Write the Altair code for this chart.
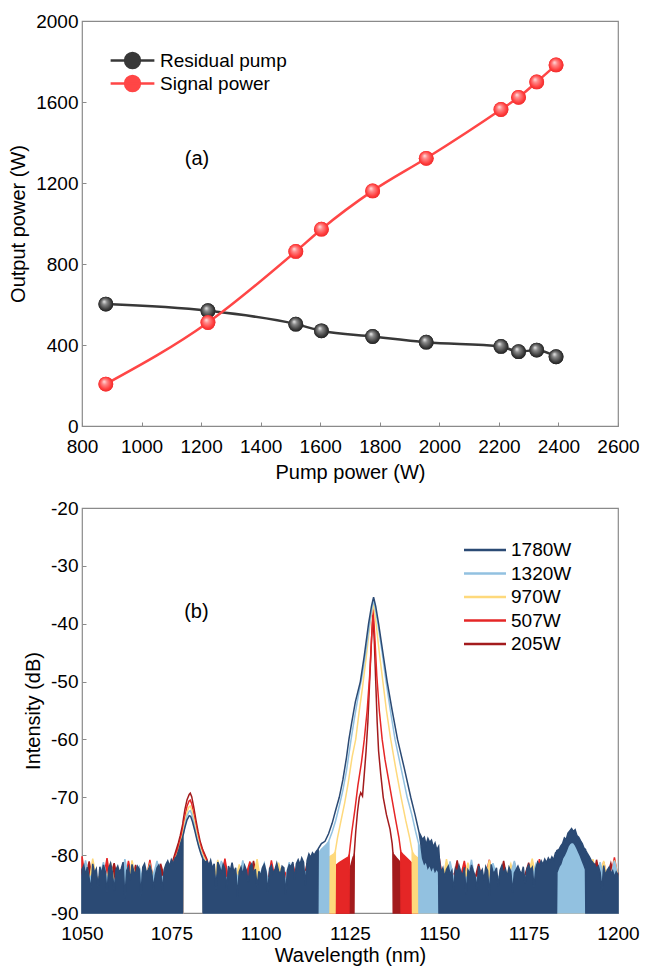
import altair as alt
import numpy as np
import pandas as pd

FONT = "Liberation Sans"

# ---------------- Panel (a) data ----------------
PUMP = [880, 1223, 1518, 1604, 1776, 1956, 2207, 2266, 2327, 2392]
RESIDUAL = [602, 569, 503, 470, 442, 414, 393, 367, 375, 342]
SIGNAL = [207, 511, 862, 972, 1161, 1322, 1563, 1623, 1699, 1783]
SERIES_A = ["Residual pump", "Signal power"]
COLORS_A = ["#383838", "#ff4646"]

# ---------------- Panel (b) data ----------------
SERIES_B = ["1780W", "1320W", "970W", "507W", "205W"]
COLORS_B = ["#2b4a74", "#92c1e0", "#fed97c", "#e52626", "#a31b1d"]

# 1780W (0.5 nm sampling of the noisy floor)
DB_N1 = [-82.5, -81.8, -83.4, -82.1, -84.0, -86.0, -81.5, -83.1, -82.4, -85.6,
         -82.0, -83.3, -81.7, -82.8, -86.5, -82.2, -81.4, -82.9, -86.3, -82.5,
         -81.9, -83.0, -82.3, -81.2, -87.5, -82.7, -82.0, -84.4, -81.6, -82.8,
         -83.2, -81.9, -82.4, -87.0, -82.1, -81.5, -83.0, -82.6, -81.8, -82.9,
         -85.8, -83.5, -82.2, -81.7, -82.8, -86.2, -82.5, -81.6, -81.0, -81.9,
         -80.8, -81.5, -80.6]
DB_P1_WL = [1076.5, 1077.0, 1077.5, 1078.1, 1078.2, 1078.8, 1079.4, 1080.0, 1080.4,
            1080.9, 1081.5, 1082.1, 1082.7, 1083.3, 1083.8, 1083.9, 1084.5]
DB_P1_TOP = [-80.2, -79.3, -78.2, -77.0, -76.8, -75.2, -73.9, -73.2, -73.3,
             -74.2, -75.6, -77.2, -78.6, -79.8, -80.6, -80.7, -81.2]
DB_N2 = [-81.0, -81.8, -80.9, -82.3, -81.5, -86.0, -81.2, -82.0, -83.1, -81.6,
         -82.4, -85.8, -81.9, -82.7, -81.3, -83.0, -82.2, -87.2, -82.9, -82.1,
         -83.4, -81.8, -82.6, -84.7, -82.0, -81.5, -83.2, -82.4, -85.5, -82.8,
         -83.6, -82.2, -81.6, -82.9, -86.5, -82.3, -81.8, -83.1, -82.5, -81.4,
         -82.7, -83.3, -81.9, -82.2, -86.8, -82.6, -81.7, -82.0, -81.2, -84.2,
         -81.5, -80.8, -81.6, -80.5, -81.2, -85.2, -80.9, -79.8, -80.4, -79.6,
         -80.0]
DB_M_WL = [1115.5, 1116.0, 1116.1, 1117.0, 1118.0, 1119.0, 1120.0, 1121.0, 1122.0, 1123.0,
           1124.0, 1124.7, 1125.5, 1126.5, 1127.9, 1129.0, 1130.2, 1131.0, 1131.6, 1132.2,
           1133.0, 1134.2, 1135.4, 1136.8, 1138.3, 1140.2, 1142.0, 1143.2, 1144.3]
DB_M_TOP = [-79.4, -79.0, -78.9, -78.0, -77.6, -76.3, -74.5, -72.2, -70.0, -67.0,
            -63.2, -60.0, -57.0, -53.5, -50.0, -45.5, -40.0, -37.0, -35.4, -37.0,
            -40.0, -45.0, -50.0, -55.0, -60.0, -65.0, -70.0, -73.0, -76.0]
DB_SH_WL = [1144.8, 1145.3, 1145.8, 1146.3, 1146.8, 1147.3, 1147.8, 1148.3, 1148.8,
            1149.3, 1149.8, 1149.9, 1150.0]
DB_SH_TOP = [-76.6, -77.3, -76.9, -78.2, -77.1, -77.8, -77.4, -78.6, -77.9,
             -79.1, -78.5, -79.5, -80.5]
DB_SH_BOT = [-78.0, -80.5, -81.5, -81.0, -82.2, -81.6, -82.5, -81.8, -82.8,
             -82.3, -83.0, -90.0, -90.0]
DB_N3 = [-83.0, -82.2, -83.8, -82.5, -81.9, -83.3, -82.7, -86.2, -82.4, -83.0,
         -81.8, -82.9, -83.5, -82.1, -86.8, -82.6, -83.2, -81.7, -82.8, -83.6,
         -85.9, -81.9, -83.1, -82.5, -84.3, -82.0, -82.7, -87.0, -81.6, -82.9,
         -83.0, -82.2, -85.4, -82.6, -81.8, -83.2, -82.4, -83.7, -82.1, -82.8,
         -86.4, -83.1, -82.5, -81.9, -82.7, -83.3, -82.0, -84.9, -82.4, -81.7,
         -82.6, -82.1, -85.6, -82.3, -81.2, -81.8, -81.0, -81.6, -80.7, -81.3,
         -80.5]
DB_P3_WL = [1181.0, 1181.5, 1182.0, 1182.5, 1182.8, 1182.9, 1183.5, 1184.0, 1184.5,
            1185.0, 1185.5, 1186.0, 1186.5, 1187.0, 1187.5, 1188.0, 1188.5, 1189.0,
            1189.5, 1190.0, 1190.5, 1190.9, 1191.0, 1191.5, 1192.0, 1192.5, 1193.0]
DB_P3_TOP = [-81.0, -80.3, -80.8, -79.6, -79.4, -79.2, -79.0, -78.4, -78.0,
             -77.0, -77.3, -76.2, -75.8, -75.4, -75.9, -75.6, -76.6, -76.9,
             -77.5, -78.0, -78.8, -79.0, -79.2, -79.8, -80.3, -80.9, -81.3]
DB_P3_BOT = [-90.0, -90.0, -90.0, -90.0, -90.0, -83.0, -82.0, -81.5, -80.5,
             -80.0, -79.3, -78.5, -78.0, -77.8, -77.8, -78.2, -78.8, -79.5,
             -80.2, -81.0, -81.8, -82.5, -90.0, -90.0, -90.0, -90.0, -90.0]
DB_N4 = [-81.6, -82.3, -81.9, -83.0, -86.1, -81.8, -83.5, -82.6, -82.1, -83.2,
         -82.7, -83.8, -82.9, -83.4]

# side peak near 1080 nm, shared sampling for the other four traces
P1_WL = [1077.5, 1078.2, 1078.25, 1078.8, 1079.4, 1080.0, 1080.3, 1080.7, 1081.3,
         1081.9, 1082.5, 1083.1, 1083.7, 1083.85, 1083.9]

# 1320W
LB_N1 = [-83.6, -80.9, -84.1, -83.2, -84.5, -83.8, -81.2, -84.0, -83.5, -84.6,
         -83.1, -84.2, -80.7, -83.9, -84.4, -83.4, -82.0, -84.1, -83.7, -84.8,
         -83.3, -81.0, -84.0, -83.5, -83.1, -82.4, -81.2, -79.8]
LB_P1_TOP = [-78.5, -77.0, -76.8, -74.9, -73.2, -72.4, -72.3, -72.9, -74.5,
             -76.3, -77.9, -79.2, -80.2, -80.4, -80.5]
LB_N2 = [-81.8, -82.9, -84.0, -83.4, -81.0, -84.2, -83.7, -84.5, -83.1, -84.0,
         -80.9, -83.8, -84.3, -83.5, -84.6, -83.2, -81.4, -84.1, -83.6, -84.4,
         -83.0, -83.9, -84.2, -81.2, -83.5, -83.8, -82.9, -83.3, -82.6, -81.8,
         -80.6, -79.8, -79.0, -78.4]
LB_M_WL = [1118.6, 1119.0, 1119.1, 1120.0, 1121.0, 1122.0, 1123.0, 1124.0, 1125.3, 1126.2,
           1127.3, 1128.4, 1129.5, 1130.5, 1131.1, 1131.6, 1132.1, 1132.8, 1134.0, 1135.1,
           1136.3, 1137.6, 1139.3, 1141.0, 1142.3, 1143.4, 1144.2, 1144.3]
LB_M_TOP = [-78.0, -77.7, -77.5, -76.0, -74.0, -71.5, -68.8, -65.5, -60.0, -56.5,
            -52.5, -49.0, -44.5, -40.0, -37.5, -35.8, -37.5, -40.0, -45.0, -50.0,
            -55.0, -60.0, -65.0, -70.0, -73.0, -76.0, -78.0, -78.2]
LB_N3 = [-79.0, -79.6, -80.2, -80.8, -81.5, -82.0,
         -83.6, -84.2, -81.1, -83.9, -84.5, -83.3, -84.0, -83.7, -80.8, -84.3,
         -83.5, -84.1, -83.8, -84.6, -81.4, -83.4, -84.0, -83.7, -84.4, -83.2,
         -81.0, -83.9, -84.3, -83.6, -84.1, -83.8, -81.6, -83.5, -83.0, -82.6,
         -81.9, -81.2,
         -80.0, -79.0, -78.0, -77.0, -76.5, -77.0, -78.0, -79.0, -80.5,
         -81.8, -83.5, -84.1, -81.2, -83.8, -84.4, -83.6, -81.0, -84.0]

# 970W
Y_N1 = [-84.2, -83.5, -84.8, -80.6, -84.0, -83.7, -84.5, -83.9, -81.3, -84.6,
        -83.8, -84.3, -83.4, -84.9, -80.9, -84.1, -83.6, -84.4, -83.2, -81.6,
        -84.0, -83.5, -84.7, -83.8, -82.9, -82.2, -80.8, -79.2]
Y_P1_TOP = [-78.0, -76.4, -76.2, -74.3, -72.5, -71.6, -71.5, -72.1, -73.8,
            -75.7, -77.4, -78.8, -79.8, -80.0, -80.1]
Y_N2 = [-81.5, -83.2, -84.4, -80.8, -84.0, -83.6, -84.7, -83.3, -84.2, -81.6,
        -84.5, -83.8, -84.1, -83.4, -80.7, -84.6, -83.9, -84.3, -83.5, -84.0,
        -81.3, -83.7, -84.4, -83.2, -84.1, -83.6, -82.8, -83.9, -83.0, -82.5,
        -82.1, -81.6, -81.2, -80.8, -80.4, -80.0]
Y_M_WL = [1120.5, 1120.8, 1120.9, 1121.5, 1122.5, 1123.5, 1124.5, 1125.6, 1126.6, 1127.5,
          1128.5, 1129.6, 1130.6, 1131.5, 1132.3, 1133.2, 1134.2, 1135.2, 1136.4, 1137.8,
          1139.3, 1140.6, 1141.7, 1142.4, 1142.5]
Y_M_TOP = [-79.8, -79.5, -79.3, -77.0, -74.0, -71.0, -67.5, -63.0, -60.0, -55.5,
           -51.0, -45.5, -40.0, -36.5, -40.0, -45.0, -50.0, -55.0, -60.0, -65.0,
           -70.0, -74.0, -77.0, -79.3, -79.5]
Y_N3 = [-80.0, -80.5, -81.0, -81.4, -81.8, -82.0,
        -82.6, -83.9, -84.4, -80.7, -84.1, -83.6, -84.5, -83.2, -84.0, -81.3,
        -84.3, -83.7, -84.6, -83.4, -84.0, -80.9, -83.8, -84.2, -83.5, -84.7,
        -83.3, -81.5, -84.1, -83.6, -84.4, -83.9, -83.2, -80.6, -83.8, -84.0,
        -83.4, -82.8, -82.5, -82.0,
        -84.0, -83.5, -83.0, -82.5, -82.0, -82.5, -83.0, -83.5, -84.0,
        -83.2, -80.7, -84.0, -83.5, -81.0, -83.9, -84.3, -80.9, -83.6]

# 507W
R_N1 = [-80.2, -84.3, -84.9, -83.8, -84.5, -83.6, -84.2, -80.5, -84.7, -83.9,
        -84.4, -83.5, -84.8, -81.0, -84.1, -83.7, -84.6, -83.3, -84.0, -80.8,
        -84.5, -83.9, -84.2, -83.6, -82.8, -81.9, -80.4, -78.6]
R_P1_TOP = [-77.4, -75.6, -75.4, -73.4, -71.5, -70.6, -70.5, -71.1, -72.9,
            -74.9, -76.7, -78.2, -79.3, -79.5, -79.6]
R_N2 = [-81.2, -83.9, -84.5, -83.3, -84.1, -80.6, -84.4, -83.7, -84.8, -83.5,
        -84.0, -83.2, -81.1, -84.6, -83.8, -84.2, -83.4, -84.7, -80.9, -84.0,
        -83.6, -84.3, -83.1, -84.5, -81.5, -83.9, -84.2, -83.5, -84.0, -83.3,
        -83.7, -83.0, -83.4, -82.8, -82.5, -82.0, -81.8, -81.3, -80.9, -80.5]
R_M_WL = [1124.6, 1124.7, 1124.8, 1125.5, 1126.4, 1127.2, 1128.2, 1129.0, 1129.8, 1130.5,
          1131.0, 1131.5, 1132.0, 1132.5, 1133.2, 1134.0, 1134.8, 1135.8, 1136.8, 1137.8,
          1138.7, 1139.2, 1139.3]
R_M_TOP = [-80.3, -80.0, -79.8, -76.0, -72.0, -68.0, -64.0, -60.0, -55.0, -49.0,
           -43.0, -37.5, -43.0, -49.0, -55.0, -60.0, -63.5, -67.0, -70.5, -74.0,
           -77.0, -79.3, -79.5]
R_N3 = [-80.0, -80.6, -81.2, -81.6, -81.9, -82.2,
        -82.8, -83.5, -84.2, -83.7, -80.6, -84.4, -83.9, -84.6, -83.3, -84.1,
        -83.6, -81.0, -84.5, -83.8, -84.2, -83.4, -84.7, -83.5, -80.8, -84.0,
        -83.7, -84.4, -83.2, -84.1, -83.8, -81.3, -84.3, -83.6, -84.0, -83.5,
        -84.6, -83.9, -80.7, -83.4, -83.0, -82.6, -82.2,
        -84.5, -84.0, -83.5, -83.0, -82.5, -83.0, -83.5, -84.0, -84.5,
        -80.5, -83.8, -84.3, -83.5, -81.2, -84.0, -83.7, -80.4, -83.9]

# 205W
DR_N1 = [-84.6, -83.9, -81.1, -84.3, -84.8, -83.7, -84.1, -84.5, -83.5, -81.4,
         -84.2, -84.7, -83.8, -84.0, -84.4, -81.7, -84.6, -83.6, -84.2, -84.8,
         -83.9, -84.3, -81.5, -83.7, -83.2, -81.8, -79.8, -77.8]
DR_P1_TOP = [-76.6, -74.6, -74.3, -72.1, -70.4, -69.5, -69.3, -69.9, -71.8,
             -74.0, -76.0, -77.7, -78.9, -79.1, -79.2]
DR_N2 = [-80.8, -83.5, -84.2, -84.8, -83.9, -81.3, -84.4, -83.6, -84.1, -84.7,
         -83.3, -84.0, -84.5, -81.0, -83.8, -84.3, -83.7, -84.6, -83.4, -84.0,
         -81.7, -84.2, -83.9, -84.5, -83.6, -84.1, -83.3, -84.4, -81.4, -83.8,
         -84.0, -83.5, -84.2, -83.7, -84.3, -83.9, -84.1, -83.6, -83.2, -82.8,
         -82.4]
DR_M_WL = [1125.8, 1126.1, 1126.2, 1126.6, 1127.1, 1127.6, 1128.0, 1128.5, 1129.0, 1129.5,
           1130.0, 1130.5, 1131.0, 1131.4, 1131.8, 1132.2, 1132.6, 1133.0, 1133.6, 1134.3,
           1135.2, 1136.2, 1136.8, 1137.0, 1137.1]
DR_M_TOP = [-80.5, -80.0, -79.6, -76.0, -72.5, -70.0, -69.2, -69.8, -66.0, -62.0,
            -57.0, -50.0, -43.0, -38.5, -43.0, -50.0, -57.0, -62.0, -66.0, -70.0,
            -73.0, -75.5, -78.0, -79.5, -79.8]
DR_N3 = [-80.5, -81.2, -81.8, -82.3, -82.6, -82.9, -83.0, -82.8,
         -83.4, -84.0, -84.6, -81.2, -83.8, -84.3, -83.6, -84.5, -83.9, -80.9,
         -84.2, -83.7, -84.4, -83.3, -84.0, -81.5, -84.6, -83.8, -84.1, -83.5,
         -84.3, -83.9, -81.0, -84.5, -83.6, -84.2, -83.8, -84.0, -83.4, -81.3,
         -84.1, -83.7, -84.4, -83.5, -83.1, -82.7, -82.3,
         -85.0, -84.5, -84.0, -83.5, -83.0, -83.5, -84.0, -84.5, -85.0,
         -83.7, -84.2, -80.8, -83.9, -84.5, -83.6, -81.4, -84.0, -83.3]

FLOOR = -90.0


def noise(start, step, vals):
    wl = start + step * np.arange(len(vals))
    return list(wl), list(vals), [FLOOR] * len(vals)


def clean(wl, top, lead, trail):
    n = len(top)
    bot = [FLOOR] * lead + list(top[lead:n - trail]) + [FLOOR] * trail
    return list(wl), list(top), bot


def explicit(wl, top, bot):
    return list(wl), list(top), list(bot)


SEGMENTS = {
    "1780W": [noise(1050.0, 0.5, DB_N1), clean(DB_P1_WL, DB_P1_TOP, 4, 2),
              noise(1085.0, 0.5, DB_N2), clean(DB_M_WL, DB_M_TOP, 2, 0),
              explicit(DB_SH_WL, DB_SH_TOP, DB_SH_BOT), noise(1150.5, 0.5, DB_N3),
              explicit(DB_P3_WL, DB_P3_TOP, DB_P3_BOT), noise(1193.5, 0.5, DB_N4)],
    "1320W": [noise(1050.0, 1.0, LB_N1), clean(P1_WL, LB_P1_TOP, 2, 1),
              noise(1085.0, 1.0, LB_N2), clean(LB_M_WL, LB_M_TOP, 2, 1),
              noise(1145.0, 1.0, LB_N3)],
    "970W": [noise(1050.0, 1.0, Y_N1), clean(P1_WL, Y_P1_TOP, 2, 1),
             noise(1085.0, 1.0, Y_N2), clean(Y_M_WL, Y_M_TOP, 2, 1),
             noise(1143.0, 1.0, Y_N3)],
    "507W": [noise(1050.0, 1.0, R_N1), clean(P1_WL, R_P1_TOP, 2, 1),
             noise(1085.0, 1.0, R_N2), clean(R_M_WL, R_M_TOP, 2, 1),
             noise(1140.0, 1.0, R_N3)],
    "205W": [noise(1050.0, 1.0, DR_N1), clean(P1_WL, DR_P1_TOP, 2, 1),
             noise(1085.0, 1.0, DR_N2), clean(DR_M_WL, DR_M_TOP, 2, 1),
             noise(1138.0, 1.0, DR_N3)],
}

rows = []
for s, segs in SEGMENTS.items():
    for wl, top, bot in segs:
        for w, t, b in zip(wl, top, bot):
            rows.append({"series": s, "wl": round(float(w), 3), "top": t, "bot": b})
dfb = pd.DataFrame(rows)

dfa = pd.DataFrame({
    "pump": PUMP + PUMP,
    "power": RESIDUAL + SIGNAL,
    "series": [SERIES_A[0]] * len(PUMP) + [SERIES_A[1]] * len(PUMP),
})

W, H = 536, 405
FRAME = "#8a8a8a"
PLAIN = "'' + datum.value"

# ---------------- Panel (a) ----------------
scale_a = alt.Scale(domain=SERIES_A, range=COLORS_A)
xa = alt.X("pump:Q", scale=alt.Scale(domain=[800, 2600], nice=False),
           axis=alt.Axis(values=list(range(800, 2601, 200)), title="Pump power (W)",
                         labelExpr=PLAIN, labelOverlap=False, labelFlush=False, offset=-4,
                         labelPadding=11, titlePadding=6))
ya = alt.Y("power:Q", scale=alt.Scale(domain=[0, 2000], nice=False),
           axis=alt.Axis(values=list(range(0, 2001, 400)), title="Output power (W)",
                         labelExpr=PLAIN, labelOverlap=False, labelFlush=False,
                         offset=-4, titlePadding=7))

LEG_PATH = "M-2.95,0L2.95,0M1,0A1,1,0,1,1,-1,0A1,1,0,1,1,1,0Z"
leg_a = alt.Legend(title=None, orient="none", legendX=41, legendY=30,
                   symbolType=LEG_PATH, symbolSize=220,
                   symbolStrokeWidth=2.5, labelOffset=18,
                   labelFontSize=19, rowPadding=-2)

lines_a = alt.Chart(dfa).mark_line(interpolate="monotone", strokeWidth=2.5).encode(
    x=xa, y=ya, color=alt.Color("series:N", scale=scale_a, legend=leg_a))
pts_a = alt.Chart(dfa).mark_point(filled=True, size=220, opacity=1).encode(
    x=xa, y=ya, color=alt.Color("series:N", scale=scale_a, legend=leg_a))


def ball(c_light, c_mid, c_dark, c_edge):
    return alt.RadialGradient(
        gradient="radial", x1=0.38, y1=0.32, r1=0.0, x2=0.5, y2=0.5, r2=0.55,
        stops=[alt.GradientStop(color=c_light, offset=0.0),
               alt.GradientStop(color=c_mid, offset=0.3),
               alt.GradientStop(color=c_dark, offset=0.75),
               alt.GradientStop(color=c_edge, offset=1.0)])


balls = []
for s, g in zip(SERIES_A, [ball("#f2f2f2", "#8a8a8a", "#3a3a3a", "#1a1a1a"),
                           ball("#ffe6e6", "#ff8a8a", "#ff3a3a", "#e62a2a")]):
    balls.append(alt.Chart(dfa).transform_filter(alt.datum.series == s)
                 .mark_point(filled=True, size=220, opacity=1, fill=g)
                 .encode(x=xa, y=ya))

lab_a = alt.Chart(pd.DataFrame({"x": [1186], "y": [1317], "t": ["(a)"]})).mark_text(
    font=FONT, fontSize=20, color="black").encode(x="x:Q", y="y:Q", text="t:N")

panel_a = alt.layer(lines_a, pts_a, *balls, lab_a).properties(width=W, height=H)

# ---------------- Panel (b) ----------------
scale_b = alt.Scale(domain=SERIES_B, range=COLORS_B)
xb = alt.X("wl:Q", scale=alt.Scale(domain=[1050, 1200], nice=False),
           axis=alt.Axis(values=list(range(1050, 1201, 25)), title="Wavelength (nm)",
                         labelExpr=PLAIN, labelOverlap=False, labelFlush=False, offset=-4,
                         labelPadding=11, titlePadding=2))
yb = alt.Y("top:Q", scale=alt.Scale(domain=[-90, -20], nice=False, clamp=True),
           axis=alt.Axis(values=list(range(-90, -19, 10)), title="Intensity (dB)",
                         labelExpr=PLAIN, labelOverlap=False, labelFlush=False,
                         offset=-4, titlePadding=7))

# legends of a concatenated chart are placed in the outer group: offset by panel (a)
leg_b = alt.Legend(title=None, orient="none", legendX=391, legendY=517,
                   symbolType="M-2,0L2,0", symbolSize=441, symbolStrokeWidth=2.5,
                   labelFontSize=19, labelOffset=14, rowPadding=1.5)

layers_b = []
for s in reversed(SERIES_B):
    layers_b.append(
        alt.Chart(dfb).transform_filter(alt.datum.series == s)
        .mark_area(strokeWidth=1.5, opacity=1, interpolate="linear")
        .encode(x=xb, y=yb, y2="bot:Q",
                fill=alt.Fill("series:N", scale=scale_b, legend=leg_b),
                stroke=alt.Stroke("series:N", scale=scale_b, legend=leg_b)))

lab_b = alt.Chart(pd.DataFrame({"x": [1082], "y": [-38], "t": ["(b)"]})).mark_text(
    font=FONT, fontSize=20, color="black").encode(x="x:Q", y="y:Q", text="t:N")

panel_b = alt.layer(*layers_b, lab_b).properties(width=W, height=H)

chart = alt.vconcat(panel_a, panel_b, spacing=15).properties(
    padding={"left": 0, "top": 3, "right": 0, "bottom": 0}
).configure_axis(
    labelFont=FONT, labelFontSize=19, labelColor="black",
    titleFont=FONT, titleFontSize=20, titleFontWeight="normal", titleColor="black",
    grid=False, domain=False, ticks=True, tickSize=4, tickColor=FRAME,
    labelPadding=4,
).configure_legend(
    labelFont=FONT, labelColor="black",
).configure_view(stroke=FRAME, strokeWidth=1.2)

chart.save("out.html", embed_options={"renderer": "svg", "actions": False})
